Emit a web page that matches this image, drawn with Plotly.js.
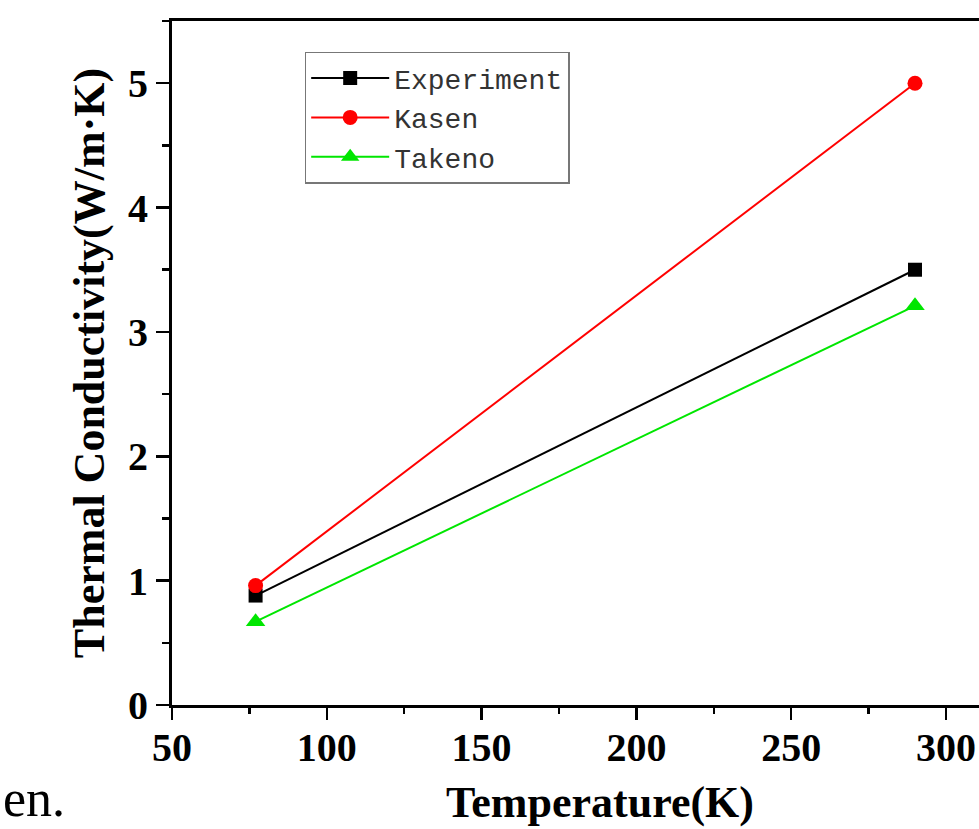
<!DOCTYPE html>
<html>
<head>
<meta charset="utf-8">
<script src="https://cdn.plot.ly/plotly-3.0.1.min.js"></script>
<style>
html, body { margin: 0; padding: 0; overflow: hidden; background: #fff; }
#chart { width: 1030px; height: 829px; }
</style>
</head>
<body>
<div id="chart"></div>
<script>
// Data
const temperature = [77, 290];
const experiment = [0.88, 3.50];
const kasen = [0.96, 5.00];
const takeno = [0.67, 3.21];
const seriesNames = ["Experiment", "Kasen", "Takeno"];
const xTickVals = [50, 100, 150, 200, 250, 300];
const yTickVals = [0, 1, 2, 3, 4, 5];

const serif = "Liberation Serif, Times New Roman, serif";

const traces = [
  {
    x: temperature, y: experiment, name: seriesNames[0],
    mode: "lines+markers", type: "scatter",
    line: { color: "#000000", width: 2 },
    marker: { symbol: "square", size: 14, color: "#000000" }
  },
  {
    x: temperature, y: kasen, name: seriesNames[1],
    mode: "lines+markers", type: "scatter",
    line: { color: "#ff0000", width: 2 },
    marker: { symbol: "circle", size: 15, color: "#ff0000" }
  },
  {
    x: temperature, y: takeno, name: seriesNames[2],
    mode: "lines+markers", type: "scatter",
    line: { color: "#00e600", width: 2 },
    marker: { symbol: "triangle-up", size: 17, color: "#00e600" }
  }
];

const layout = {
  width: 1030,
  height: 829,
  margin: { l: 172, r: 2, t: 21, b: 124 },
  paper_bgcolor: "#ffffff",
  plot_bgcolor: "#ffffff",
  showlegend: true,
  legend: {
    x: 0.155, y: 0.955, xanchor: "left", yanchor: "top",
    bgcolor: "#ffffff",
    bordercolor: "#777777",
    borderwidth: 1.5,
    itemwidth: 78,
    font: { family: "Liberation Mono, Courier New, monospace", size: 28, color: "#333333" },
    tracegroupgap: 0
  },
  xaxis: {
    range: [50, 326.5],
    tickvals: xTickVals,
    ticktext: xTickVals.map(String),
    ticks: "outside",
    ticklen: 12,
    tickwidth: 2.5,
    tickcolor: "#000",
    ticklabelstandoff: -7,
    minor: { dtick: 25, ticks: "outside", ticklen: 6, tickwidth: 2.5, tickcolor: "#000", showgrid: false },
    showline: true, linecolor: "#000", linewidth: 3,
    mirror: true,
    showgrid: false, zeroline: false,
    tickfont: { family: serif, size: 40, color: "#000", weight: "bold" },
    title: { text: "Temperature(K)", font: { family: serif, size: 44, color: "#000", weight: "bold" }, standoff: 18 }
  },
  yaxis: {
    range: [0, 5.5],
    tickvals: yTickVals,
    ticktext: yTickVals.map(String),
    ticks: "outside",
    ticklen: 13,
    tickwidth: 2.5,
    tickcolor: "#000",
    minor: { dtick: 0.5, ticks: "outside", ticklen: 7, tickwidth: 2.5, tickcolor: "#000", showgrid: false },
    showline: true, linecolor: "#000", linewidth: 3,
    mirror: true,
    showgrid: false, zeroline: false,
    tickfont: { family: serif, size: 40, color: "#000", weight: "bold" },
    title: { text: "Thermal Conductivity(W/m·K)", font: { family: serif, size: 44, color: "#000", weight: "bold" }, standoff: 10 }
  },
  annotations: [
    {
      text: "en.", xref: "paper", yref: "paper",
      x: (1 - 172) / 856, y: -(829 - 705) / 684,
      xanchor: "left", yanchor: "bottom",
      showarrow: false,
      font: { family: serif, size: 52, color: "#000" }
    }
  ]
};

Plotly.newPlot("chart", traces, layout, { displayModeBar: false, staticPlot: true });
</script>
</body>
</html>
